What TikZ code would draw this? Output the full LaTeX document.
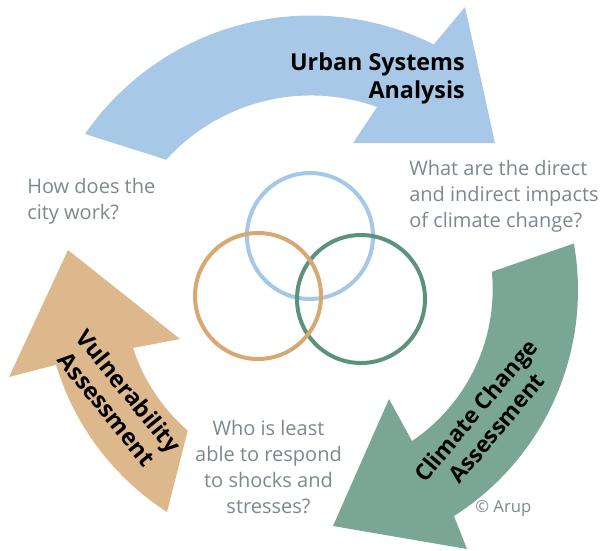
\documentclass[tikz,border=0pt]{standalone}
\usepackage{fontspec}
\setmainfont{Open Sans}
\usepackage{tikz}
\usepackage{xcolor}

\definecolor{urbanblue}{RGB}{167,200,230}
\definecolor{climategreen}{RGB}{122,167,149}
\definecolor{vulntan}{RGB}{222,184,141}
\definecolor{ringblue}{RGB}{166,200,232}
\definecolor{ringgreen}{RGB}{91,146,121}
\definecolor{ringtan}{RGB}{216,168,114}
\definecolor{askgrey}{RGB}{125,135,145}

\begin{document}
\begin{tikzpicture}[x=0.75pt,y=0.75pt,yscale=-1,xscale=1,
    question/.style={inner sep=0pt,text=askgrey,font=\fontsize{15}{19.5}\selectfont},
    phase/.style={inner sep=0pt,text=black,align=center,font=\fontsize{17.5}{21}\selectfont\bfseries},
    ring/.style={line width=3pt}]
    \useasboundingbox (0,0) rectangle (602,550); %set diagram at 602 x 550

    %Shape: Circular Arrow [Urban Systems Analysis]
    \fill [urbanblue] (85,134) arc[start angle=-145.3, end angle=-63.5, radius=275] -- (465,7) -- (495,143) -- (353,143) -- (377,107) arc[start angle=-70.2, end angle=-137.9, radius=195] -- cycle ;
    %Shape: Circular Arrow [Climate Change Assessment]
    \fill [climategreen] (573.9,243.5) arc[start angle=-10, end angle=57.5, radius=268] -- (467,549) -- (333,526) -- (389,399) -- (412,441) arc[start angle=56, end angle=-5.5, radius=183] -- cycle ;
    %Shape: Circular Arrow [Vulnerability Assessment]
    \fill [vulntan] (167,512) arc[start angle=122.8, end angle=163.2, radius=267] -- (9,377) -- (68,250) -- (180,339) -- (133,348) arc[start angle=161.9, end angle=131, radius=186] -- cycle ;

    %Shape: Circle
    \draw [ring, draw=ringblue] (310,236) circle (63) ;
    %Shape: Circle
    \draw [ring, draw=ringgreen] (361,299) circle (64) ;
    %Shape: Circle
    \draw [ring, draw=ringtan] (258,296) circle (63) ;

    % Text Node (base = last line)
    \node [phase, anchor=base east, align=right] (urban) at (465,98) {Urban Systems\\Analysis};
    % Text Node
    \node [phase, rotate=50, font=\fontsize{17}{20.5}\selectfont\bfseries] (climate) at (486,419) {Climate Change\\Assessment};
    % Text Node
    \node [phase, rotate=-51] (vulnerability) at (118,400) {Vulnerability\\Assessment};

    % Text Node
    \node [question, anchor=base west, align=left] (howcity) at (27,219) {How does the\\city work?};
    % Text Node
    \node [question, anchor=base west, align=left] (impacts) at (409,227) {What are the direct\\and indirect impacts\\of climate change?};
    % Text Node
    \node [question, anchor=base, align=center] (leastable) at (268.5,513) {Who is least\\able to respond\\to shocks and\\stresses?};
    % Text Node
    \node [question, anchor=base west, font=\fontsize{12.5}{15}\selectfont] (copyright) at (475,512) {© Arup};

\end{tikzpicture}
\end{document}
